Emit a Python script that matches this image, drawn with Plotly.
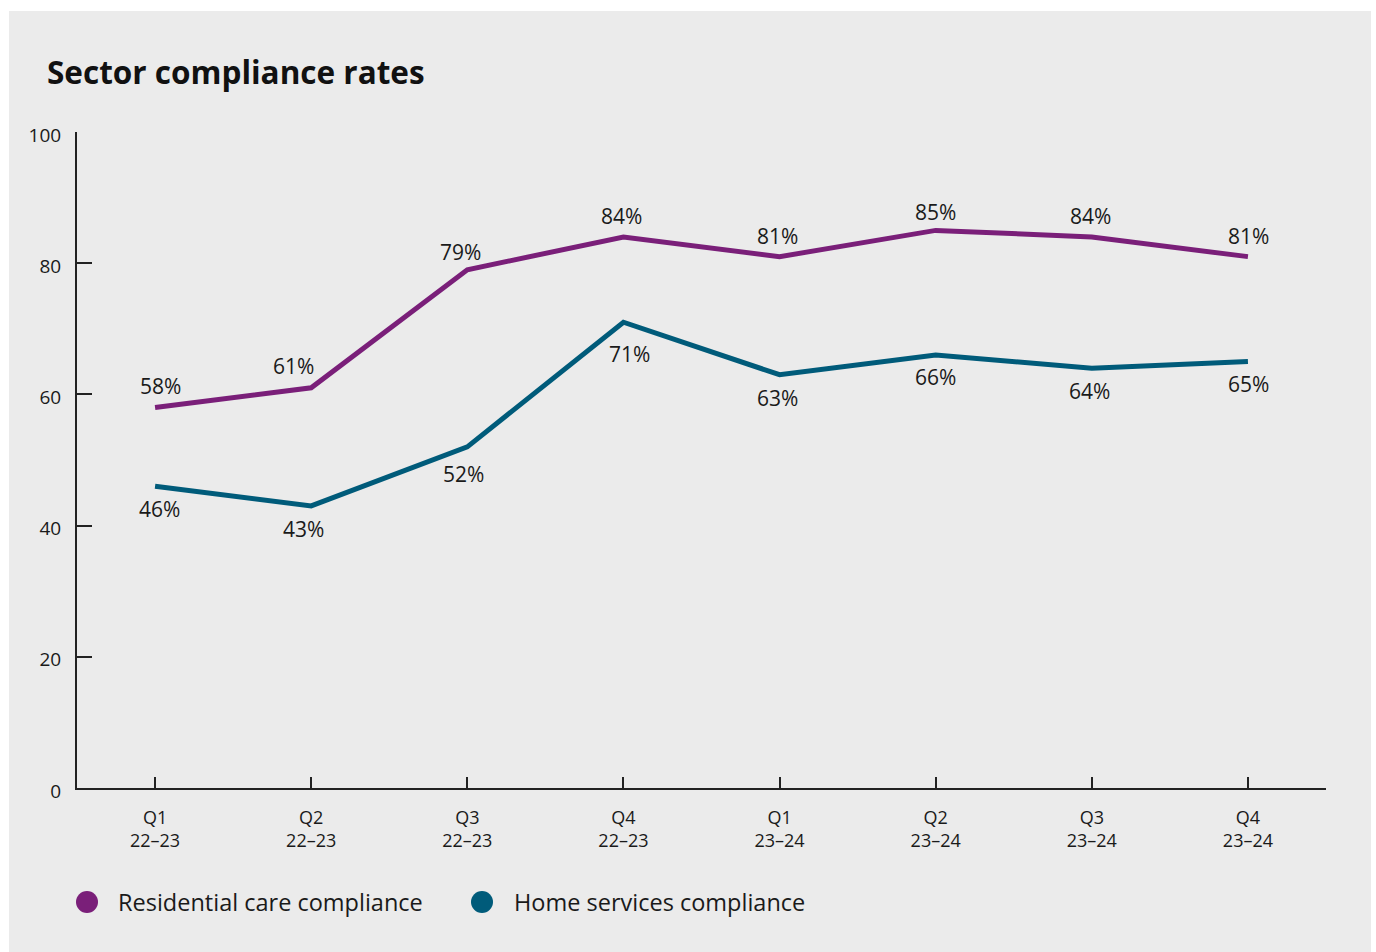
import plotly.graph_objects as go

# Quarterly compliance rates (%)
quarters = ["Q1<br>22–23", "Q2<br>22–23", "Q3<br>22–23", "Q4<br>22–23",
            "Q1<br>23–24", "Q2<br>23–24", "Q3<br>23–24", "Q4<br>23–24"]
series_names = ["Residential care compliance", "Home services compliance"]
residential = [58, 61, 79, 84, 81, 85, 84, 81]
home_services = [46, 43, 52, 71, 63, 66, 64, 65]

PURPLE = "#7a1f79"
TEAL = "#005b7a"
PANEL = "#ebebeb"
TEXT = "#1a1a1a"
FONT = "Open Sans, Noto Sans, sans-serif"

W, H = 1376, 952
ML, MR, MT, MB = 77, 50, 132, 164
PW, PH = W - ML - MR, H - MT - MB


def px_x(px):
    return (px - ML) / PW


def px_y(py):
    return (H - MB - py) / PH


fig = go.Figure()
x_idx = list(range(len(quarters)))

fig.add_trace(go.Scatter(
    x=x_idx, y=residential, mode="lines", name=series_names[0], showlegend=False,
    line=dict(color=PURPLE, width=5), hoverinfo="skip"))
fig.add_trace(go.Scatter(
    x=x_idx, y=home_services, mode="lines", name=series_names[1], showlegend=False,
    line=dict(color=TEAL, width=5), hoverinfo="skip"))

# Value labels: residential above the line, home services below
res_dx = [5, -18, -7, -2, -2, 0, -1, 1]
res_dy = [22, 22, 18, 21, 21, 18, 21, 21]
home_dx = [4, -8, -4, 6, -2, 0, -2, 1]
home_dy = [-23, -23, -27, -32, -23, -22, -23, -22]
for i, v in enumerate(residential):
    fig.add_annotation(x=i, y=v, text=f"{v}%", showarrow=False, xshift=res_dx[i],
                       yshift=res_dy[i], font=dict(family=FONT, size=21, color=TEXT))
for i, v in enumerate(home_services):
    fig.add_annotation(x=i, y=v, text=f"{v}%", showarrow=False, xshift=home_dx[i],
                       yshift=home_dy[i], font=dict(family=FONT, size=21, color=TEXT))

# Grey background panel behind the whole chart
fig.add_shape(type="rect", xref="paper", yref="paper", layer="below",
              x0=px_x(9), x1=px_x(1371), y0=px_y(H + 5), y1=px_y(11),
              fillcolor=PANEL, line_width=0)

# Legend: filled circles with labels along the bottom
legend_items = [(87, 116, PURPLE), (482, 512, TEAL)]
for (cx, tx, col), name in zip(legend_items, series_names):
    fig.add_shape(type="circle", xref="paper", yref="paper", layer="above",
                  x0=px_x(cx - 11), x1=px_x(cx + 11), y0=px_y(902 + 11), y1=px_y(902 - 11),
                  fillcolor=col, line_width=0)
    fig.add_annotation(xref="paper", yref="paper", x=px_x(tx), y=px_y(902),
                       xanchor="left", yanchor="middle", text=name, showarrow=False,
                       font=dict(family=FONT, size=23.5, color=TEXT))

fig.update_layout(
    width=W, height=H,
    margin=dict(l=ML, r=MR, t=MT, b=MB),
    paper_bgcolor="white", plot_bgcolor="rgba(0,0,0,0)",
    font=dict(family=FONT, color=TEXT),
    title=dict(text="<b>Sector compliance rates</b>", x=47 / W, xanchor="left",
               y=1 - 73 / H, yanchor="middle",
               font=dict(family=FONT, size=31.5, color="#111111")),
    showlegend=False,
    xaxis=dict(range=[-0.5, 7.5], tickmode="array", tickvals=x_idx, ticktext=quarters,
               showgrid=False, zeroline=False, showline=True, linecolor="#222",
               linewidth=2, ticks="inside", ticklen=11, tickcolor="#222", tickwidth=1.5,
               ticklabelstandoff=12,
               tickfont=dict(family=FONT, size=18, color=TEXT), fixedrange=True),
    yaxis=dict(range=[0, 100], tickvals=[0, 20, 40, 60, 80, 100],
               showgrid=False, zeroline=False, showline=True, linecolor="#222",
               linewidth=2, ticks="inside", ticklen=15, tickcolor="#222", tickwidth=1.5,
               ticklabelstandoff=10, ticklabelshift=3,
               tickfont=dict(family=FONT, size=19, color=TEXT), fixedrange=True),
)

fig.write_html("out.html")
